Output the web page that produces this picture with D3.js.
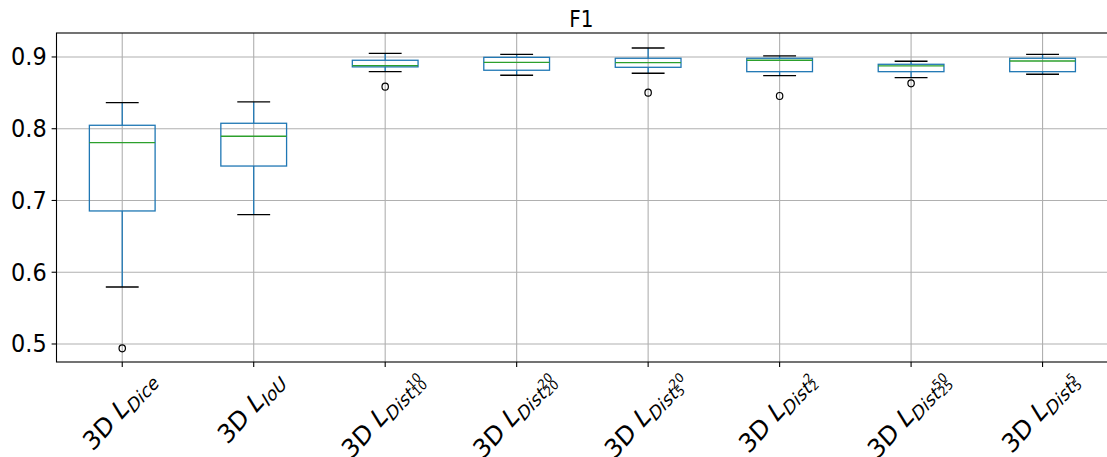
<!DOCTYPE html>
<html>
<head>
<meta charset="utf-8">
<script src="https://cdn.jsdelivr.net/npm/d3@7"></script>
<style>
  html, body { margin: 0; padding: 0; background: #fff; }
  svg { display: block; font-family: "DejaVu Sans", sans-serif; }
</style>
</head>
<body>
<svg id="chart" width="1107" height="457"></svg>
<script>
// ---- data ----
const chartTitle = "F1";
const categories = ["Dice", "IoU", "Dist", "Dist", "Dist", "Dist", "Dist", "Dist"];
const labelSup    = ["", "", "10", "20", "20", "2", "50", "5"];
const labelSubSub = ["", "", "10", "20", "5", "2", "25", "5"];
const whiskerLow  = [0.5794, 0.6802, 0.8795, 0.8745, 0.8773, 0.8739, 0.8712, 0.8759];
const q1          = [0.6854, 0.7480, 0.8862, 0.8815, 0.8856, 0.8795, 0.8795, 0.8795];
const median      = [0.7806, 0.7895, 0.8878, 0.8926, 0.8921, 0.8954, 0.8875, 0.8944];
const q3          = [0.8048, 0.8076, 0.8954, 0.8995, 0.8982, 0.8982, 0.8898, 0.8982];
const whiskerHigh = [0.8363, 0.8373, 0.9051, 0.9037, 0.9125, 0.9014, 0.8940, 0.9037];
const outliers    = [[0.494], [], [0.8586], [], [0.8503], [0.8456], [0.8633], []];
const yTicks      = [0.5, 0.6, 0.7, 0.8, 0.9];
const yDomain     = [0.4749, 0.9334];

(function () {
// ---- layout ----
const pL = 56.5, pR = 1108.3, pT = 33, pB = 362;
const sy = 1.11; // vertical stretch of the reference image
const svg = d3.select("#chart");

const x = d3.scaleLinear().domain([0.5, categories.length + 0.5]).range([pL, pR]);
const y = d3.scaleLinear().domain(yDomain).range([pB, pT]);
const slot = x(2) - x(1);
const boxW = slot * 0.5, capW = boxW * 0.5;

const idx = d3.range(categories.length);

// grid
const grid = svg.append("g");
grid.selectAll("line.h").data(yTicks).join("line")
  .attr("x1", pL).attr("x2", pR)
  .attr("y1", d => y(d)).attr("y2", d => y(d))
  .attr("stroke", "#b0b0b0").attr("stroke-width", 1.1);
grid.selectAll("line.v").data(idx).join("line")
  .attr("x1", i => x(i + 1)).attr("x2", i => x(i + 1))
  .attr("y1", pT).attr("y2", pB)
  .attr("stroke", "#b0b0b0").attr("stroke-width", 1.1);

// boxes
const boxes = svg.append("g").attr("fill", "none");
idx.forEach(i => {
  const cx = x(i + 1);
  const g = boxes.append("g");
  g.append("line").attr("x1", cx).attr("x2", cx).attr("y1", y(q3[i])).attr("y2", y(whiskerHigh[i]))
    .attr("stroke", "#1f77b4").attr("stroke-width", 1.3);
  g.append("line").attr("x1", cx).attr("x2", cx).attr("y1", y(q1[i])).attr("y2", y(whiskerLow[i]))
    .attr("stroke", "#1f77b4").attr("stroke-width", 1.3);
  [whiskerHigh[i], whiskerLow[i]].forEach(v => {
    g.append("line").attr("x1", cx - capW / 2).attr("x2", cx + capW / 2)
      .attr("y1", y(v)).attr("y2", y(v)).attr("stroke", "#000").attr("stroke-width", 1.3);
  });
  g.append("rect").attr("x", cx - boxW / 2).attr("width", boxW)
    .attr("y", y(q3[i])).attr("height", y(q1[i]) - y(q3[i]))
    .attr("stroke", "#1f77b4").attr("stroke-width", 1.3);
  g.append("line").attr("x1", cx - boxW / 2).attr("x2", cx + boxW / 2)
    .attr("y1", y(median[i])).attr("y2", y(median[i]))
    .attr("stroke", "#2ca02c").attr("stroke-width", 1.3);
  g.selectAll("ellipse").data(outliers[i]).join("ellipse")
    .attr("cx", cx).attr("cy", d => y(d)).attr("rx", 3.2).attr("ry", 3.5)
    .attr("stroke", "#000").attr("stroke-width", 1.2).attr("fill", "none");
});

// spines
svg.append("rect").attr("x", pL).attr("y", pT)
  .attr("width", pR - pL).attr("height", pB - pT)
  .attr("fill", "none").attr("stroke", "#000").attr("stroke-width", 1.1);

// y axis ticks & labels
const fs = 22.4;
const yAxis = svg.append("g");
yTicks.forEach(t => {
  yAxis.append("line").attr("x1", pL - 4.9).attr("x2", pL)
    .attr("y1", y(t)).attr("y2", y(t)).attr("stroke", "#000").attr("stroke-width", 1.1);
  yAxis.append("text")
    .attr("transform", `translate(${pL - 9.8},${y(t)}) scale(1,${sy})`)
    .attr("text-anchor", "end").attr("dominant-baseline", "central")
    .attr("font-size", fs).attr("fill", "#000").text(d3.format(".1f")(t));
});

// x ticks & labels
const lfs = 23.5;
const xAxis = svg.append("g");
idx.forEach(i => {
  const cx = x(i + 1);
  xAxis.append("line").attr("x1", cx).attr("x2", cx)
    .attr("y1", pB).attr("y2", pB + 4.9).attr("stroke", "#000").attr("stroke-width", 1.1);

  const t = xAxis.append("text").attr("font-size", lfs).attr("fill", "#000");
  t.append("tspan").text("3D ");
  t.append("tspan").attr("font-style", "italic").text("L");
  const subFs = lfs * 0.72, ssFs = subFs * 0.7;
  t.append("tspan").attr("font-style", "italic").attr("font-size", subFs).attr("dy", 4.5).text(categories[i]);
  if (labelSup[i]) {
    const sup = t.append("tspan").attr("font-size", ssFs).attr("dy", -7).text(labelSup[i]);
    const supW = sup.node().getComputedTextLength();
    t.append("tspan").attr("font-size", ssFs).attr("dx", -supW).attr("dy", 9).text(labelSubSub[i]);
  }
  const bb = t.node().getBBox();
  const R = (bb.width + bb.height) / (2 * Math.SQRT2);
  t.attr("transform",
    `translate(${cx - 2},${pB + 6 + R}) scale(1,${sy}) rotate(-45) translate(${-(bb.x + bb.width / 2)},${-(bb.y + bb.height / 2)})`);
});

// title
svg.append("text")
  .attr("transform", `translate(${(pL + 1106) / 2},26.5) scale(1,${sy})`)
  .attr("text-anchor", "middle").attr("font-size", 20).attr("fill", "#000").text(chartTitle);
})();
</script>
</body>
</html>
